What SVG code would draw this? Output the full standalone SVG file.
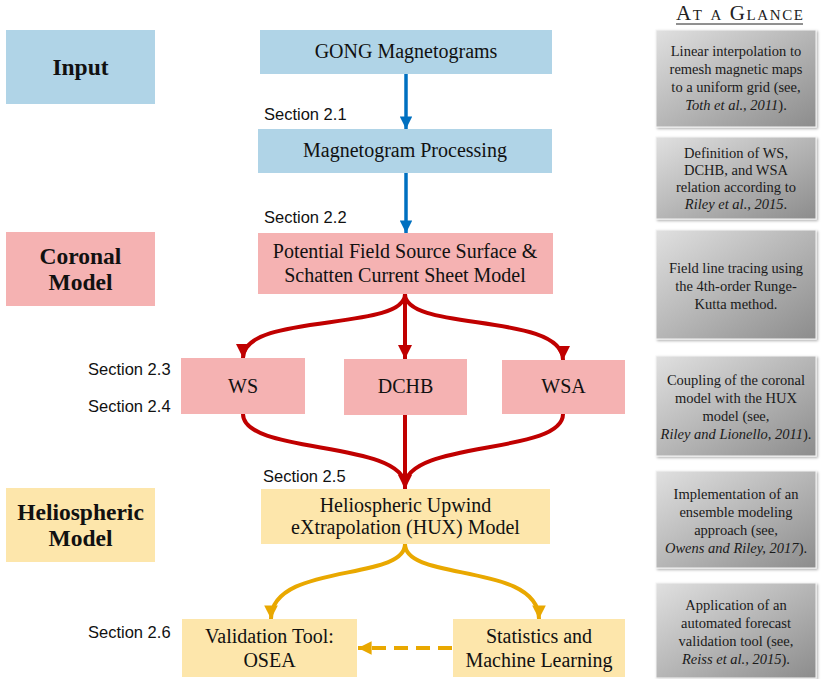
<svg xmlns="http://www.w3.org/2000/svg" width="822" height="679" viewBox="0 0 822 679">
<style>
.blue{fill:#b0d4e7}
.pink{fill:#f5b2b2}
.yel{fill:#fde6ab}
.t{font-family:"Liberation Serif",serif;font-size:20px;fill:#111;text-anchor:middle}
.b{font-family:"Liberation Serif",serif;font-size:23.5px;font-weight:bold;fill:#111;text-anchor:middle}
.s{font-family:"Liberation Sans",sans-serif;font-size:16.5px;fill:#111}
.g{font-family:"Liberation Serif",serif;font-size:14.5px;fill:#1a1a1a;text-anchor:middle}
.gb{fill:url(#grad);stroke:#f4f4f4;stroke-width:1}
.i{font-style:italic}
.ab{fill:none;stroke:#0070c0;stroke-width:3.5}
.ar{fill:none;stroke:#c00000;stroke-width:4}
.ay{fill:none;stroke:#e9a800;stroke-width:4}
</style>
<defs>
<linearGradient id="grad" x1="0" y1="0" x2="1" y2="1">
<stop offset="0" stop-color="#e0e0e0"/>
<stop offset="1" stop-color="#8c8c8c"/>
</linearGradient>
<filter id="sh" x="-5%" y="-5%" width="115%" height="115%">
<feDropShadow dx="1.5" dy="1.5" stdDeviation="1.2" flood-color="#000" flood-opacity="0.3"/>
</filter>
<marker id="mb" viewBox="0 0 10 10" refX="10" refY="5" markerWidth="3.6" markerHeight="3.6" orient="auto" markerUnits="strokeWidth"><path d="M0,0 L10,5 L0,10 z" fill="#0070c0"/></marker>
<marker id="mr" viewBox="0 0 10 10" refX="10" refY="5" markerWidth="3.6" markerHeight="3.6" orient="auto" markerUnits="strokeWidth"><path d="M0,0 L10,5 L0,10 z" fill="#c00000"/></marker>
<marker id="my" viewBox="0 0 10 10" refX="10" refY="5" markerWidth="3.4" markerHeight="3.4" orient="auto" markerUnits="strokeWidth"><path d="M0,0 L10,5 L0,10 z" fill="#e9a800"/></marker>
</defs>
<rect width="822" height="679" fill="#fff"/>

<g id="input"><rect class="blue" x="6" y="30" width="149" height="74"/><text class="b" x="80.5" y="75">Input</text></g>
<g id="coronal"><rect class="pink" x="6" y="232" width="149" height="74"/><text class="b" x="80.5" y="264">Coronal</text><text class="b" x="80.5" y="290">Model</text></g>
<g id="helio"><rect class="yel" x="6" y="488" width="149" height="74"/><text class="b" x="80.5" y="520">Heliospheric</text><text class="b" x="80.5" y="546">Model</text></g>

<g id="gong"><rect class="blue" x="260" y="30" width="292" height="44"/><text class="t" x="406" y="58">GONG Magnetograms</text></g>
<g id="magproc"><rect class="blue" x="258" y="129" width="294" height="44"/><text class="t" x="405" y="157">Magnetogram Processing</text></g>
<g id="pfss"><rect class="pink" x="258" y="233" width="295" height="61"/><text class="t" x="405" y="258">Potential Field Source Surface &amp;</text><text class="t" x="405" y="282">Schatten Current Sheet Model</text></g>
<g id="ws"><rect class="pink" x="181" y="358" width="124" height="56"/><text class="t" x="243" y="393">WS</text></g>
<g id="dchb"><rect class="pink" x="344" y="359" width="123" height="56"/><text class="t" x="405.5" y="393">DCHB</text></g>
<g id="wsa"><rect class="pink" x="502" y="360" width="123" height="54"/><text class="t" x="563.5" y="393">WSA</text></g>
<g id="hux"><rect class="yel" x="261" y="489" width="289" height="55"/><text class="t" x="405.5" y="512">Heliospheric Upwind</text><text class="t" x="405.5" y="534">eXtrapolation (HUX) Model</text></g>
<g id="osea"><rect class="yel" x="182" y="619" width="175" height="58"/><text class="t" x="269.5" y="643">Validation Tool:</text><text class="t" x="269.5" y="667">OSEA</text></g>
<g id="stats"><rect class="yel" x="453" y="619" width="172" height="58"/><text class="t" x="539" y="643">Statistics and</text><text class="t" x="539" y="667">Machine Learning</text></g>

<g id="sections">
<text class="s" x="264" y="120">Section 2.1</text>
<text class="s" x="264" y="223">Section 2.2</text>
<text class="s" x="88" y="375">Section 2.3</text>
<text class="s" x="88" y="412">Section 2.4</text>
<text class="s" x="263" y="482">Section 2.5</text>
<text class="s" x="88" y="638">Section 2.6</text>
</g>

<g id="connectors">
<path class="ab" d="M406,74 L406,129" marker-end="url(#mb)"/>
<path class="ab" d="M406,173 L406,233" marker-end="url(#mb)"/>
<path class="ar" d="M405,294 L405,359" marker-end="url(#mr)"/>
<path class="ar" d="M405,294 C405,332 243,312 243,358" marker-end="url(#mr)"/>
<path class="ar" d="M405,294 C405,332 563,312 563,360" marker-end="url(#mr)"/>
<path class="ar" d="M243,414 C243,455 405,440 405,486"/>
<path class="ar" d="M563,414 C563,455 405,440 405,486"/>
<path class="ar" d="M405,415 L405,489" marker-end="url(#mr)"/>
<path class="ay" d="M405,544 C405,582 271,562 271,619" marker-end="url(#my)"/>
<path class="ay" d="M405,544 C405,582 539,562 539,619" marker-end="url(#my)"/>
<path class="ay" d="M452,648 L358,648" stroke-dasharray="14,8" marker-end="url(#my)"/>
</g>

<g id="glance">
<text x="676" y="20" font-family="Liberation Serif, serif" font-size="21" font-variant="small-caps" fill="#222" textLength="127" lengthAdjust="spacing">At a Glance</text>
<line x1="676" y1="24" x2="803" y2="24" stroke="#222" stroke-width="1"/>
</g>

<g id="note1"><rect class="gb" filter="url(#sh)" x="656" y="30" width="160" height="97"/>
<text class="g" x="736" y="56">Linear interpolation to</text><text class="g" x="736" y="74">remesh magnetic maps</text><text class="g" x="736" y="92">to a uniform grid (see,</text><text class="g" x="736" y="110"><tspan class="i">Toth et al., 2011</tspan>).</text></g>
<g id="note2"><rect class="gb" filter="url(#sh)" x="656" y="137" width="160" height="82"/>
<text class="g" x="736" y="158">Definition of WS,</text><text class="g" x="736" y="175">DCHB, and WSA</text><text class="g" x="736" y="192">relation according to</text><text class="g" x="736" y="209"><tspan class="i">Riley et al., 2015</tspan>.</text></g>
<g id="note3"><rect class="gb" filter="url(#sh)" x="656" y="230" width="160" height="109"/>
<text class="g" x="736" y="273">Field line tracing using</text><text class="g" x="736" y="291">the 4th-order Runge-</text><text class="g" x="736" y="309">Kutta method.</text></g>
<g id="note4"><rect class="gb" filter="url(#sh)" x="656" y="356" width="160" height="100"/>
<text class="g" x="736" y="385">Coupling of the coronal</text><text class="g" x="736" y="403">model with the HUX</text><text class="g" x="736" y="421">model (see,</text><text class="g" x="736" y="439"><tspan class="i">Riley and Lionello, 2011</tspan>).</text></g>
<g id="note5"><rect class="gb" filter="url(#sh)" x="656" y="471" width="160" height="97"/>
<text class="g" x="736" y="499">Implementation of an</text><text class="g" x="736" y="517">ensemble modeling</text><text class="g" x="736" y="535">approach (see,</text><text class="g" x="736" y="553"><tspan class="i">Owens and Riley, 2017</tspan>).</text></g>
<g id="note6"><rect class="gb" filter="url(#sh)" x="656" y="583" width="160" height="95"/>
<text class="g" x="736" y="610">Application of an</text><text class="g" x="736" y="628">automated forecast</text><text class="g" x="736" y="646">validation tool (see,</text><text class="g" x="736" y="664"><tspan class="i">Reiss et al., 2015</tspan>).</text></g>
</svg>
